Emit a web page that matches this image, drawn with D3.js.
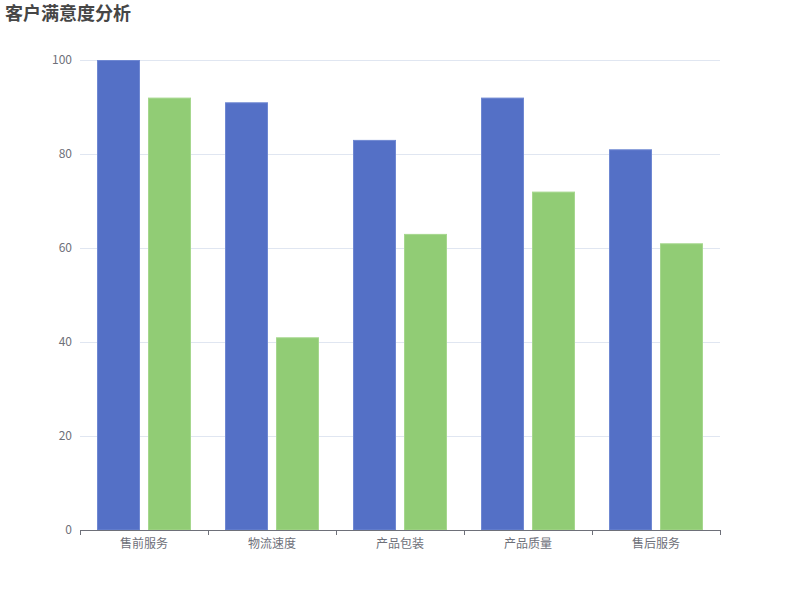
<!DOCTYPE html>
<html>
<head>
<meta charset="utf-8">
<script src="https://cdn.jsdelivr.net/npm/d3@7"></script>
<style>
  body { margin: 0; background: #fff; font-family: "Noto Sans CJK SC", "Noto Sans", sans-serif; }
  .title { font-size: 18px; font-weight: bold; fill: #464646; }
  .tick-label { font-size: 12px; fill: #6e7079; }
</style>
</head>
<body>
<div id="chart"></div>
<script>
//////////////////////// Data ////////////////////////
const categories = ["售前服务", "物流速度", "产品包装", "产品质量", "售后服务"]
const seriesA = [100, 91, 83, 92, 81]
const seriesB = [92, 41, 63, 72, 61]
const yTicks = [0, 20, 40, 60, 80, 100]

const colors = ["#5470c6", "#91cc75"]
const strokes = ["#6f88d2", "#a6d78e"]

//////////////////////// SVG ////////////////////////
const W = 800, H = 600
const margin = { top: 60, right: 80, bottom: 70, left: 80 }
const width = W - margin.left - margin.right
const height = H - margin.top - margin.bottom

const root = d3.select("#chart").append("svg")
    .attr("width", W)
    .attr("height", H)

root.append("text")
    .attr("class", "title")
    .attr("x", 5)
    .attr("y", 20)
    .text("客户满意度分析")

const svg = root.append("g")
    .attr("transform", "translate(" + margin.left + "," + margin.top + ")")

//////////////////////// Scales ////////////////////////
const x0 = d3.scaleBand()
    .domain(categories)
    .range([0, width])

const x1 = d3.scaleBand()
    .domain([0, 1])
    .range([0, x0.bandwidth()])
    .paddingInner(8 / 51)
    .paddingOuter(17 / 51)

const y = d3.scaleLinear()
    .domain([0, 100])
    .range([height, 0])

//////////////////////// Grid ////////////////////////
svg.selectAll(".grid")
    .data(yTicks.filter(d => d > 0))
    .enter().append("line")
    .attr("class", "grid")
    .attr("x1", 0)
    .attr("x2", width)
    .attr("y1", d => y(d) + 0.5)
    .attr("y2", d => y(d) + 0.5)
    .style("stroke", "#e0e6f1")

svg.selectAll(".y-label")
    .data(yTicks)
    .enter().append("text")
    .attr("class", "tick-label")
    .attr("x", -8)
    .attr("y", d => y(d))
    .attr("dy", "0.35em")
    .attr("text-anchor", "end")
    .text(d => d)

//////////////////////// Bars ////////////////////////
const data = categories.map((c, i) => ({ cat: c, vals: [seriesA[i], seriesB[i]] }))

const groups = svg.selectAll(".group")
    .data(data)
    .enter().append("g")
    .attr("transform", d => "translate(" + x0(d.cat) + ",0)")

groups.selectAll("rect")
    .data(d => d.vals.map((v, k) => ({ k, v })))
    .enter().append("rect")
    .attr("x", d => x1(d.k) + 0.5)
    .attr("y", d => y(d.v) + 0.5)
    .attr("width", x1.bandwidth() - 1)
    .attr("height", d => height - y(d.v) - 0.5)
    .style("fill", d => colors[d.k])
    .style("stroke", d => strokes[d.k])
    .style("stroke-width", 1)

//////////////////////// X axis ////////////////////////
const xAxis = svg.append("g")
    .attr("transform", "translate(0," + height + ")")

xAxis.append("line")
    .attr("x1", 0).attr("x2", width)
    .attr("y1", 0.5).attr("y2", 0.5)
    .style("stroke", "#6e7079")

xAxis.selectAll(".x-tick")
    .data(categories.concat(["end"]))
    .enter().append("line")
    .attr("x1", (d, i) => i * x0.step() + 0.5)
    .attr("x2", (d, i) => i * x0.step() + 0.5)
    .attr("y1", 0)
    .attr("y2", 5)
    .style("stroke", "#6e7079")

xAxis.selectAll(".x-label")
    .data(categories)
    .enter().append("text")
    .attr("class", "tick-label")
    .attr("x", d => x0(d) + x0.bandwidth() / 2)
    .attr("y", 18)
    .attr("text-anchor", "middle")
    .text(d => d)
</script>
</body>
</html>
